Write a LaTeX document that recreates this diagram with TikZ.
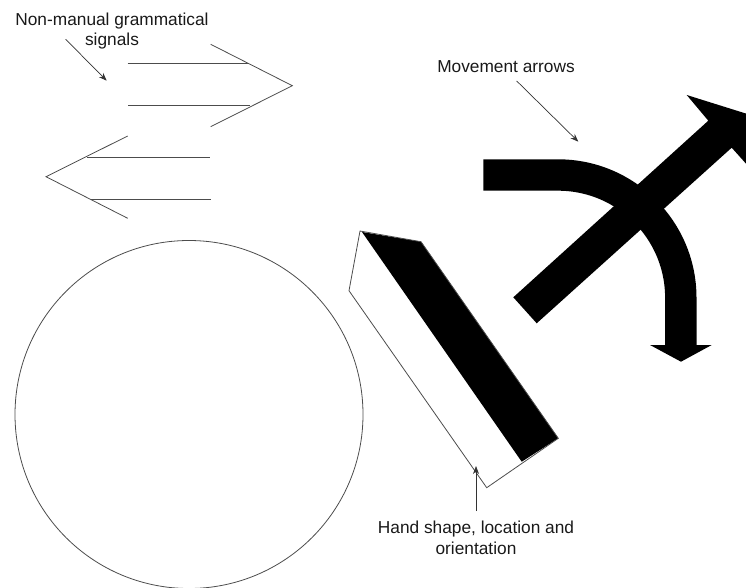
\documentclass[tikz,border=0pt]{standalone}
\usepackage{fontspec}
\setmainfont{Liberation Sans}
\usetikzlibrary{arrows.meta}

\tikzset{
  note/.style={font=\fontsize{17.3}{20.5}\selectfont, text=black!90, align=center, inner sep=0pt},
  outline/.style={draw=black!70, line width=0.8pt},
  pointer/.style={draw=black!80, line width=0.7pt, -{Stealth[length=8pt,width=6pt]}},
}

\begin{document}
\begin{tikzpicture}[x=1pt,y=-1pt]
\useasboundingbox (0,0) rectangle (746,588);
\clip (0,0) rectangle (746,588);

% head
\draw[outline] (189,414.5) circle[radius=174];

% non-manual signals
\draw[outline] (127.7,63.3) -- (248,63.3);
\draw[outline] (128,105.3) -- (250,105.3);
\draw[outline] (210.7,44.3) -- (292.3,85.7) -- (210.7,126.7);
\draw[outline] (87,157.3) -- (210,157.3);
\draw[outline] (90.7,199) -- (211,199);
\draw[outline] (127.7,136) -- (46,176.7) -- (127.7,218.3);

% hand
\fill (362,232) -- (421,241.7) -- (558.3,438.3) -- (521.7,461.7) -- cycle;
\draw[outline] (360,231) -- (349,290.7) -- (486.7,487.7) -- (558.3,438.3) -- (421,241.7) -- cycle;

% movement arrows
\draw[line width=31.4pt] (483.3,175) -- (558,175) arc[start angle=-90, end angle=0, radius=122.8] -- (680.8,346);
\fill (650,345) -- (711.7,345) -- (681,361.7) -- cycle;
\fill (536.7,323.3) -- (513.3,297.3) -- (708.3,120.7) -- (686.7,95) -- (780,124.2) -- (766,186) -- (731.7,147.7) -- cycle;

% labels
\node[note] (nms) at (112,31) {Non-manual grammatical\\signals};
\node[note] (mov) at (506,67) {Movement arrows};
\node[note] (hand) at (476,538) {Hand shape, location and\\orientation};

\coordinate (nms tail) at (65.7,39.3);
\coordinate (nms tip) at (106.7,80.7);
\coordinate (mov tail) at (516.7,81);
\coordinate (mov tip) at (578.3,141.7);
\coordinate (hand tail) at (476,511);
\coordinate (hand tip) at (476,466);

\draw[pointer] (nms tail) -- (nms tip);
\draw[pointer] (mov tail) -- (mov tip);
\draw[pointer] (hand tail) -- (hand tip);
\end{tikzpicture}
\end{document}
